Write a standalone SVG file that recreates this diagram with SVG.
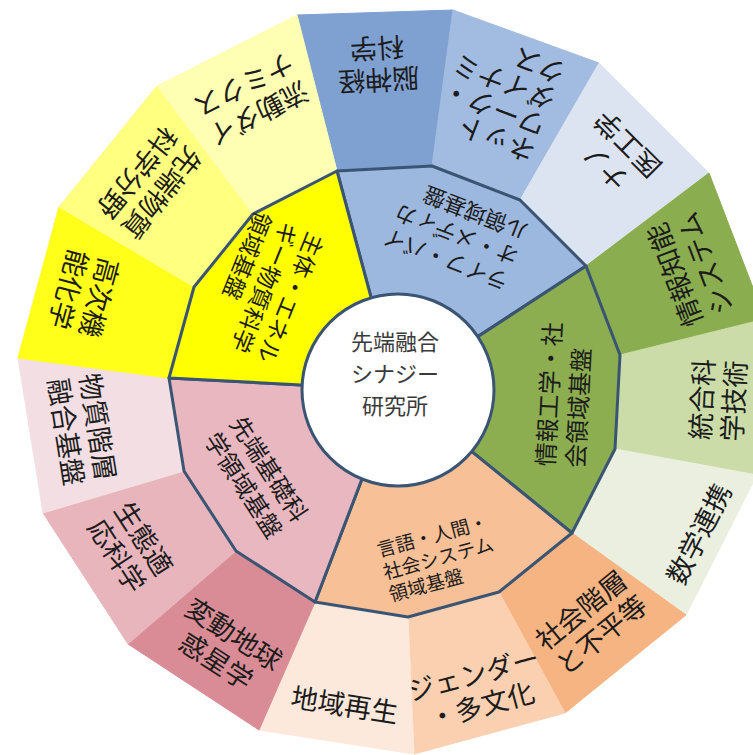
<svg xmlns="http://www.w3.org/2000/svg" width="753" height="755" viewBox="0 0 753 755">
<style>
.o{font-family:"Noto Sans CJK JP","Noto Sans",sans-serif;font-size:27px;fill:#1c1c1c;text-anchor:middle;dominant-baseline:central}
.i{font-family:"Noto Sans CJK JP","Noto Sans",sans-serif;fill:#1c1c1c;text-anchor:start;dominant-baseline:central}
.c{font-family:"Noto Sans CJK JP","Noto Sans",sans-serif;font-size:22px;fill:#3a3a3a;text-anchor:middle;dominant-baseline:central}
.seg{stroke-width:1}
.in{stroke:#3a5473;stroke-width:3;stroke-linejoin:round}
</style>
<rect width="753" height="755" fill="#ffffff"/>
<g id="outer-ring">
<g id="o-nou"><polygon class="seg" fill="#7fa1d2" stroke="#7fa1d2" points="297,15 453,10 432,166 337,171"/>
<g transform="translate(378,66) rotate(177)"><text class="o"><tspan x="0" y="-16">脳神経</tspan><tspan x="0" y="16">科学</tspan></text></g></g>
<g id="o-net"><polygon class="seg" fill="#a2bbe0" stroke="#a2bbe0" points="453,10 599,63 520,200 432,166"/>
<g transform="translate(501,100) rotate(-159)"><text class="o" style="text-anchor:start"><tspan x="-50" y="-40">ネット</tspan><tspan x="-50" y="-12">ワーク・</tspan><tspan x="-50" y="16">ダイナミ</tspan><tspan x="-50" y="44">クス</tspan></text></g></g>
<g id="o-nano"><polygon class="seg" fill="#dce4f2" stroke="#dce4f2" points="599,63 709,173 586,266 520,200"/>
<g transform="translate(615,157) rotate(-135)"><text class="o"><tspan x="0" y="-16">ナノ</tspan><tspan x="0" y="16">医工学</tspan></text></g></g>
<g id="o-joho"><polygon class="seg" fill="#8aad4f" stroke="#8aad4f" points="709,173 765,319 620,355 586,266"/>
<g transform="translate(688,270) rotate(-111)"><text class="o"><tspan x="0" y="-16">情報知能</tspan><tspan x="0" y="16">システム</tspan></text></g></g>
<g id="o-togo"><polygon class="seg" fill="#cbdca8" stroke="#cbdca8" points="765,319 757,475 615,449 620,355"/>
<g transform="translate(716,400) rotate(-87)"><text class="o"><tspan x="0" y="-16">統合科</tspan><tspan x="0" y="16">学技術</tspan></text></g></g>
<g id="o-sugaku"><polygon class="seg" fill="#ebefe0" stroke="#ebefe0" points="757,475 686,615 572,533 615,449"/>
<g transform="translate(697,533) rotate(-63)"><text class="o"><tspan x="0" y="0">数学連携</tspan></text></g></g>
<g id="o-shakai"><polygon class="seg" fill="#f6b483" stroke="#f6b483" points="686,615 565,713 499,592 572,533"/>
<g transform="translate(590,621) rotate(-39)"><text class="o"><tspan x="0" y="-16">社会階層</tspan><tspan x="0" y="16">と不平等</tspan></text></g></g>
<g id="o-gender"><polygon class="seg" fill="#fbd0b0" stroke="#fbd0b0" points="565,713 414,754 408,617 499,592"/>
<g transform="translate(477,688) rotate(-15)"><text class="o"><tspan x="0" y="-16">ジェンダー</tspan><tspan x="0" y="16">・多文化</tspan></text></g></g>
<g id="o-chiiki"><polygon class="seg" fill="#fde9dc" stroke="#fde9dc" points="414,754 259,730 315,602 408,617"/>
<g transform="translate(345,703) rotate(9)"><text class="o"><tspan x="0" y="0">地域再生</tspan></text></g></g>
<g id="o-hendo"><polygon class="seg" fill="#d98c96" stroke="#d98c96" points="259,730 128,644 236,551 315,602"/>
<g transform="translate(226,646) rotate(33)"><text class="o"><tspan x="0" y="-16">変動地球</tspan><tspan x="0" y="16">惑星学</tspan></text></g></g>
<g id="o-seitai"><polygon class="seg" fill="#e8b5bd" stroke="#e8b5bd" points="128,644 43,513 184,471 236,551"/>
<g transform="translate(132,546) rotate(57)"><text class="o"><tspan x="0" y="-16">生態適</tspan><tspan x="0" y="16">応科学</tspan></text></g></g>
<g id="o-busshitsu"><polygon class="seg" fill="#f3dfe3" stroke="#f3dfe3" points="43,513 18,358 169,378 184,471"/>
<g transform="translate(84,429) rotate(81)"><text class="o"><tspan x="0" y="-16">物質階層</tspan><tspan x="0" y="16">融合基盤</tspan></text></g></g>
<g id="o-koji"><polygon class="seg" fill="#ffff1a" stroke="#ffff1a" points="18,358 59,207 194,287 169,378"/>
<g transform="translate(86,294) rotate(105)"><text class="o"><tspan x="0" y="-16">高次機</tspan><tspan x="0" y="16">能化学</tspan></text></g></g>
<g id="o-sentan"><polygon class="seg" fill="#ffff80" stroke="#ffff80" points="59,207 157,86 253,214 194,287"/>
<g transform="translate(151,184) rotate(129)"><text class="o"><tspan x="0" y="-16">先端物質</tspan><tspan x="0" y="16">科学分野</tspan></text></g></g>
<g id="o-ryudo"><polygon class="seg" fill="#ffffb3" stroke="#ffffb3" points="157,86 297,15 337,171 253,214"/>
<g transform="translate(252,101) rotate(153)"><text class="o"><tspan x="0" y="-16">流動ダイ</tspan><tspan x="0" y="16">ナミクス</tspan></text></g></g>
</g>
<g id="inner-ring">
<g id="i-life"><polygon class="in" fill="#9db8df" points="396,390 337,171 432,166 520,200 586,266"/>
<g transform="translate(455,236) rotate(-159)"><text class="i" style="font-size:22px"><tspan x="-66" y="-27">ライフ・バイ</tspan><tspan x="-66" y="0">オ・メディカ</tspan><tspan x="-66" y="27">ル領域基盤</tspan></text></g></g>
<g id="i-joho"><polygon class="in" fill="#8cad50" points="396,390 586,266 620,355 615,449 572,533"/>
<g transform="translate(562,395) rotate(-87)"><text class="i" style="font-size:24px"><tspan x="-72" y="-15">情報工学・社</tspan><tspan x="-72" y="15">会領域基盤</tspan></text></g></g>
<g id="i-gengo"><polygon class="in" fill="#f8c096" points="396,390 572,533 499,592 408,617 315,602"/>
<g transform="translate(438,556) rotate(-15)"><text class="i" style="font-size:19px"><tspan x="-57" y="-23">言語・人間・</tspan><tspan x="-57" y="0">社会システム</tspan><tspan x="-57" y="23">領域基盤</tspan></text></g></g>
<g id="i-kiso"><polygon class="in" fill="#e8b7c0" points="396,390 315,602 236,551 184,471 169,378"/>
<g transform="translate(258,476) rotate(57)"><text class="i" style="font-size:24px"><tspan x="-60" y="-15">先端基礎科</tspan><tspan x="-60" y="15">学領域基盤</tspan></text></g></g>
<g id="i-energy"><polygon class="in" fill="#ffff00" points="396,390 169,378 194,287 253,214 337,171"/>
<g transform="translate(266,288) rotate(112)"><text class="i" style="font-size:23px"><tspan x="-69" y="-28">主体・エネル</tspan><tspan x="-69" y="0">ギー物質科学</tspan><tspan x="-69" y="28">領域基盤</tspan></text></g></g>
</g>
<g id="center">
<circle cx="398" cy="390" r="96" fill="#ffffff" stroke="#3a5473" stroke-width="3"/>
<text class="c" x="395" y="340">先端融合</text>
<text class="c" x="395" y="372">シナジー</text>
<text class="c" x="395" y="404">研究所</text>
</g>
</svg>
